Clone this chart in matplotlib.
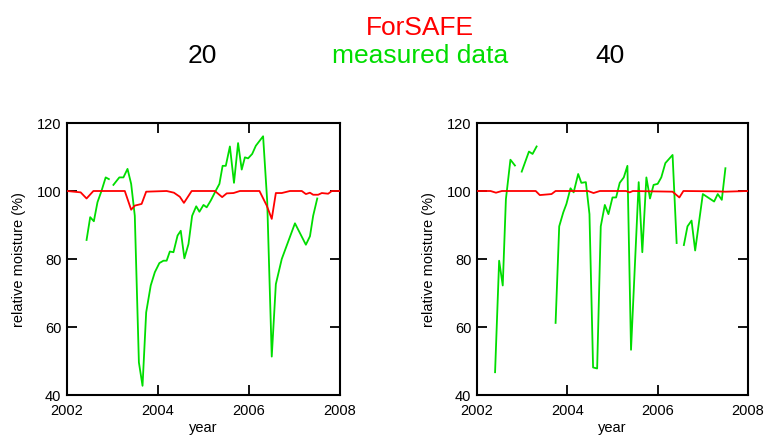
import numpy as np
import matplotlib
matplotlib.use("Agg")
import matplotlib.pyplot as plt

plt.rcParams['font.family'] = ['Liberation Sans', 'DejaVu Sans']

nan = np.nan

# ---- depth 20: ForSAFE simulation ----
sim20_year = [2002.0, 2002.15, 2002.3, 2002.43, 2002.58, 2003.27, 2003.41, 2003.49, 2003.64,
              2003.74, 2004.19, 2004.35, 2004.48, 2004.57, 2004.74, 2005.25, 2005.41, 2005.51,
              2005.66, 2005.80, 2006.23, 2006.39, 2006.50, 2006.59, 2006.72, 2006.90, 2007.16,
              2007.25, 2007.34, 2007.41, 2007.52, 2007.60, 2007.74, 2007.82, 2008.0]
sim20_val = [100.0, 99.8, 99.6, 97.8, 100.0, 100.0, 94.5, 95.7, 96.2,
             99.8, 100.0, 99.5, 98.3, 96.5, 100.0, 100.0, 98.2, 99.3,
             99.4, 100.0, 100.0, 95.7, 91.8, 99.4, 99.4, 100.0, 100.0,
             99.1, 99.5, 98.9, 98.9, 99.4, 99.2, 100.0, 100.0]

# ---- depth 20: measured (NaN marks a gap in the record) ----
meas20_year = [2002.43, 2002.51, 2002.59, 2002.67, 2002.76, 2002.85, 2002.92, 2002.97,
               2003.02, 2003.15, 2003.24, 2003.33, 2003.41, 2003.49, 2003.58, 2003.66,
               2003.74, 2003.84, 2003.93, 2004.03, 2004.12, 2004.19, 2004.26, 2004.34,
               2004.43, 2004.50, 2004.58, 2004.67, 2004.75, 2004.84, 2004.91, 2005.0,
               2005.07, 2005.16, 2005.27, 2005.35, 2005.42, 2005.49, 2005.58, 2005.67,
               2005.76, 2005.84, 2005.91, 2005.98, 2006.07, 2006.15, 2006.31, 2006.40,
               2006.50, 2006.59, 2006.72, 2007.01, 2007.25, 2007.34, 2007.41, 2007.50]
meas20_val = [85.6, 92.3, 91.1, 96.7, 100.1, 104.0, 103.5, nan,
              101.8, 104.0, 104.0, 106.5, 102.1, 92.7, 49.6, 42.7,
              64.3, 72.2, 76.1, 78.8, 79.5, 79.5, 82.2, 82.0,
              86.9, 88.3, 80.2, 84.4, 92.7, 95.5, 93.9, 95.9,
              95.2, 97.2, 100.1, 102.1, 107.4, 107.4, 113.1, 102.4,
              114.1, 106.3, 109.9, 109.6, 110.9, 113.3, 116.1, 97.0,
              51.3, 72.6, 80.0, 90.5, 84.2, 86.7, 92.7, 97.8]

# ---- depth 40: ForSAFE simulation ----
sim40_year = [2002.0, 2002.3, 2002.42, 2002.55, 2003.3, 2003.39, 2003.65, 2003.74, 2004.46,
              2004.58, 2004.72, 2005.3, 2005.38, 2005.45, 2006.33, 2006.48, 2006.57, 2007.3,
              2007.5, 2008.0]
sim40_val = [100.0, 100.0, 99.5, 100.0, 100.0, 98.8, 99.1, 100.0, 100.0,
             99.4, 100.0, 100.0, 99.6, 100.0, 99.8, 98.1, 100.0, 99.9,
             99.8, 100.0]

# ---- depth 40: measured ----
meas40_year = [2002.40, 2002.49, 2002.57, 2002.64, 2002.74, 2002.84, 2002.92,
               2002.99, 2003.15, 2003.23, 2003.32, 2003.5,
               2003.74, 2003.82, 2003.91, 2003.98, 2004.07, 2004.14, 2004.24, 2004.31,
               2004.41, 2004.49, 2004.57, 2004.66, 2004.74, 2004.83, 2004.91, 2005.0,
               2005.08, 2005.16, 2005.25, 2005.33, 2005.41, 2005.58, 2005.66, 2005.75,
               2005.83, 2005.91, 2006.0, 2006.08, 2006.17, 2006.33, 2006.42, 2006.5,
               2006.58, 2006.66, 2006.75, 2006.83, 2007.0, 2007.25, 2007.33, 2007.42,
               2007.50]
meas40_val = [46.7, 79.5, 72.2, 97.6, 109.2, 107.5, nan,
              105.7, 111.6, 110.9, 113.1, nan,
              61.2, 89.6, 93.7, 96.2, 100.8, 99.6, 105.0, 102.4,
              102.6, 93.2, 48.1, 47.8, 89.6, 95.9, 93.2, 98.1,
              98.1, 102.4, 104.0, 107.4, 53.3, 102.6, 82.0, 104.0,
              97.8, 101.8, 102.1, 104.0, 108.2, 110.6, 84.7, nan,
              84.1, 89.6, 91.3, 82.5, 99.1, 96.9, 99.1, 97.4,
              106.7]

year_ticks = [2002, 2004, 2006, 2008]
moist_ticks = [40, 60, 80, 100, 120]

SIM_COLOR = '#ff0000'
MEAS_COLOR = '#00dd00'

fig = plt.figure(figsize=(7.64, 4.39), dpi=100)
W, H = 764, 439

def make_axes(x0, x1, y0, y1):
    return fig.add_axes([x0 / W, 1 - y1 / H, (x1 - x0) / W, (y1 - y0) / H])

ax20 = make_axes(67, 340, 124, 396)
ax40 = make_axes(477, 748, 124, 396)

panels = [
    (ax20, sim20_year, sim20_val, meas20_year, meas20_val),
    (ax40, sim40_year, sim40_val, meas40_year, meas40_val),
]

for ax, sy, sv, my, mv in panels:
    ax.plot(sy, sv, color=SIM_COLOR, lw=1.3, zorder=3)
    ax.plot(my, mv, color=MEAS_COLOR, lw=1.3, zorder=2)
    ax.set_xlim(2002, 2008)
    ax.set_ylim(40, 120)
    ax.set_xticks(year_ticks)
    ax.set_yticks(moist_ticks)
    ax.tick_params(direction='in', length=7, width=1.3, top=True, right=True,
                   labelsize=10.5, colors='black')
    ax.tick_params(axis='x', pad=5.5)
    ax.tick_params(axis='y', pad=4)
    for s in ax.spines.values():
        s.set_linewidth(1.5)
        s.set_color('black')
    ax.set_xlabel('year', fontsize=10.5, labelpad=2.5)
    ax.set_ylabel('relative moisture (%)', fontsize=10.5, labelpad=8)

fig.text(420 / W, 1 - 35 / H, 'ForSAFE', color=SIM_COLOR, fontsize=19,
         ha='center', va='baseline')
fig.text(420 / W, 1 - 63 / H, 'measured data', color=MEAS_COLOR, fontsize=19,
         ha='center', va='baseline')
fig.text(202 / W, 1 - 63 / H, '20', color='black', fontsize=19,
         ha='center', va='baseline')
fig.text(610 / W, 1 - 63 / H, '40', color='black', fontsize=19,
         ha='center', va='baseline')

fig.savefig('out.png', dpi=100, facecolor='white')
